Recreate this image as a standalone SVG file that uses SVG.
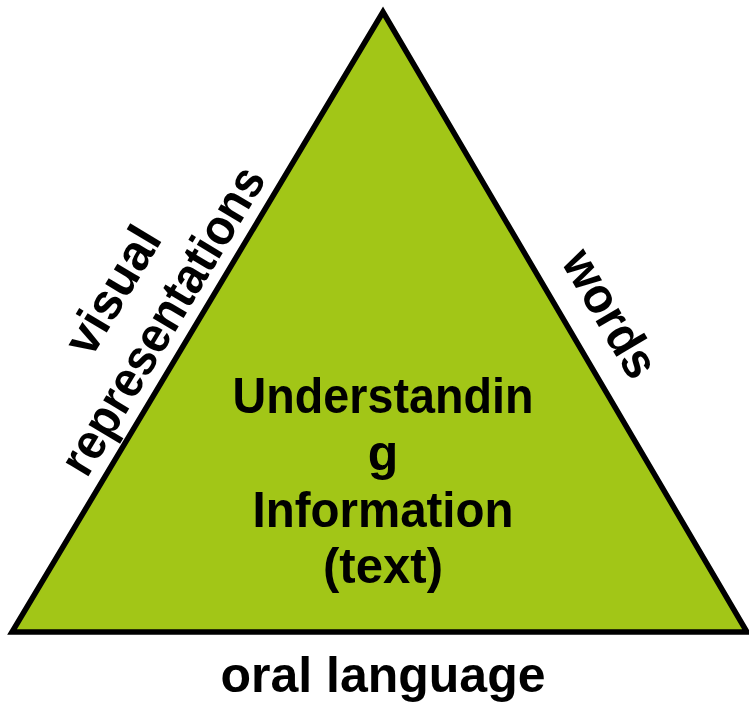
<svg xmlns="http://www.w3.org/2000/svg" width="749" height="702" viewBox="0 0 749 702">
<style>
.t{font-family:"Liberation Sans",Arial,sans-serif;font-weight:bold;font-size:50px;fill:#000;text-anchor:middle}
</style>
<rect width="749" height="702" fill="#fff"/>
<g id="triangle">
<polygon points="383,12 12,632 747,632" fill="#A2C617" stroke="#000" stroke-width="5.5" stroke-linejoin="miter"/>
</g>
<g id="center-label">
<text class="t" x="383" y="413" textLength="301" lengthAdjust="spacingAndGlyphs">Understandin</text>
<text class="t" x="383" y="470">g</text>
<text class="t" x="383" y="527" textLength="261" lengthAdjust="spacingAndGlyphs">Information</text>
<text class="t" x="383" y="583" textLength="120" lengthAdjust="spacingAndGlyphs">(text)</text>
</g>
<g id="left-label">
<text class="t" transform="translate(127,299) rotate(-59)" textLength="140" lengthAdjust="spacingAndGlyphs">visual</text>
<text class="t" transform="translate(177,329) rotate(-59)" textLength="350" lengthAdjust="spacingAndGlyphs">representations</text>
</g>
<g id="right-label">
<text class="t" transform="translate(596,322) rotate(59.5)" textLength="140" lengthAdjust="spacingAndGlyphs">words</text>
</g>
<g id="bottom-label">
<text class="t" x="383" y="692" textLength="325" lengthAdjust="spacingAndGlyphs">oral language</text>
</g>
</svg>
